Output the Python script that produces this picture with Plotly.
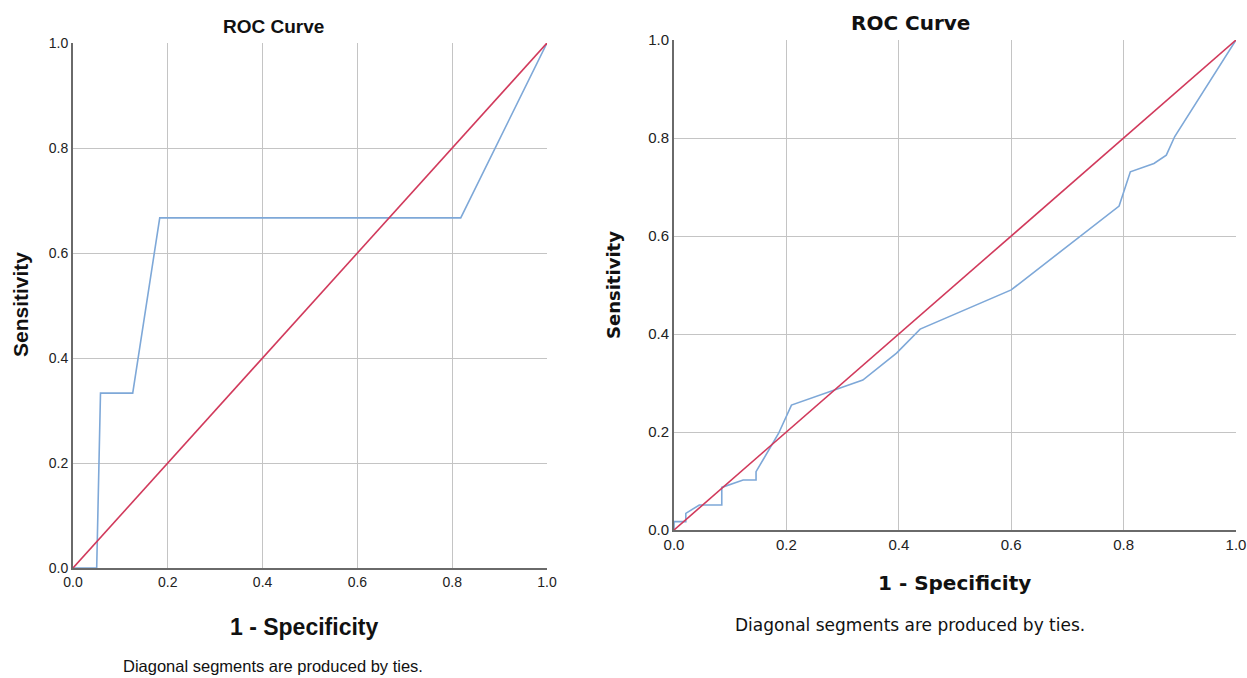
import plotly.graph_objects as go

W, H = 1247, 678

# Left ROC curve (1 - specificity, sensitivity)
left_fpr = [0.0, 0.05, 0.058, 0.126, 0.183, 0.818, 1.0]
left_tpr = [0.0, 0.0, 0.333, 0.333, 0.667, 0.667, 1.0]

# Right ROC curve
right_fpr = [0.0, 0.0, 0.021, 0.021, 0.045, 0.085, 0.085, 0.123, 0.146, 0.146,
             0.186, 0.209, 0.336, 0.396, 0.438, 0.600, 0.792, 0.812, 0.854,
             0.876, 0.891, 1.0]
right_tpr = [0.0, 0.017, 0.017, 0.034, 0.051, 0.051, 0.087, 0.102, 0.102, 0.119,
             0.197, 0.255, 0.306, 0.361, 0.410, 0.490, 0.661, 0.731, 0.748,
             0.765, 0.803, 1.0]

ref_line = [0.0, 1.0]
tick_vals = [0.0, 0.2, 0.4, 0.6, 0.8, 1.0]
tick_text = ["0.0", "0.2", "0.4", "0.6", "0.8", "1.0"]

BLUE = "#7ea8d8"
RED = "#d13a5c"
GRID = "#c4c4c4"
AXIS = "#6a6a6a"

def px_x(p):
    return p / W

def px_y(p):
    return 1 - p / H

fig = go.Figure()

fig.add_trace(go.Scatter(x=left_fpr, y=left_tpr, mode="lines",
                         line=dict(color=BLUE, width=1.6), xaxis="x", yaxis="y",
                         showlegend=False))
fig.add_trace(go.Scatter(x=ref_line, y=ref_line, mode="lines",
                         line=dict(color=RED, width=1.6), xaxis="x", yaxis="y",
                         showlegend=False))
fig.add_trace(go.Scatter(x=right_fpr, y=right_tpr, mode="lines",
                         line=dict(color=BLUE, width=1.6), xaxis="x2", yaxis="y2",
                         showlegend=False))
fig.add_trace(go.Scatter(x=ref_line, y=ref_line, mode="lines",
                         line=dict(color=RED, width=1.6), xaxis="x2", yaxis="y2",
                         showlegend=False))

LFONT = "Liberation Sans Narrow, Arial Narrow, Liberation Sans, Arial, sans-serif"
RFONT = "DejaVu Sans, Verdana, sans-serif"
RTICK = "Liberation Sans, Arial, sans-serif"

def axis(domain, anchor, font, size):
    return dict(domain=domain, anchor=anchor, range=[0, 1], tickvals=tick_vals,
                ticktext=tick_text, showgrid=True, gridcolor=GRID, gridwidth=1.2,
                showline=True, linecolor=AXIS, linewidth=2, zeroline=False,
                ticks="", tickfont=dict(family=font, size=size, color="#222"),
                mirror=False, fixedrange=True, automargin=False)

fig.update_layout(
    width=W, height=H,
    margin=dict(l=0, r=0, t=0, b=0, autoexpand=False),
    paper_bgcolor="white", plot_bgcolor="white",
    xaxis=axis([px_x(73), px_x(547)], "y", LFONT, 14),
    yaxis=axis([px_y(568), px_y(43)], "x", LFONT, 14),
    xaxis2=axis([px_x(674), px_x(1236)], "y2", RTICK, 15),
    yaxis2=axis([px_y(530), px_y(40)], "x2", RTICK, 15),
)

def ann(text, x, y, font, size, bold=False, angle=0):
    t = f"<b>{text}</b>" if bold else text
    fig.add_annotation(text=t, x=px_x(x), y=px_y(y), xref="paper", yref="paper",
                       showarrow=False, textangle=angle, xanchor="center",
                       yanchor="middle",
                       font=dict(family=font, size=size, color="#111"))

# Left panel texts
ann("ROC Curve", 273, 27, LFONT, 19, bold=True)
ann("1 - Specificity", 304, 627, LFONT, 23, bold=True)
ann("Sensitivity", 20, 305, LFONT, 21, bold=True, angle=-90)
ann("Diagonal segments are produced by ties.", 273, 666, LFONT, 16.5)

# Right panel texts
ann("ROC Curve", 910, 23, RFONT, 20, bold=True)
ann("1 - Specificity", 955, 583, RFONT, 20, bold=True)
ann("Sensitivity", 613, 285, RFONT, 18, bold=True, angle=-90)
ann("Diagonal segments are produced by ties.", 910, 625, RFONT, 17)

fig.write_html(
    "out.html",
    config={"displayModeBar": False},
    post_script="document.body.style.margin='0';document.body.style.overflow='hidden';",
)
